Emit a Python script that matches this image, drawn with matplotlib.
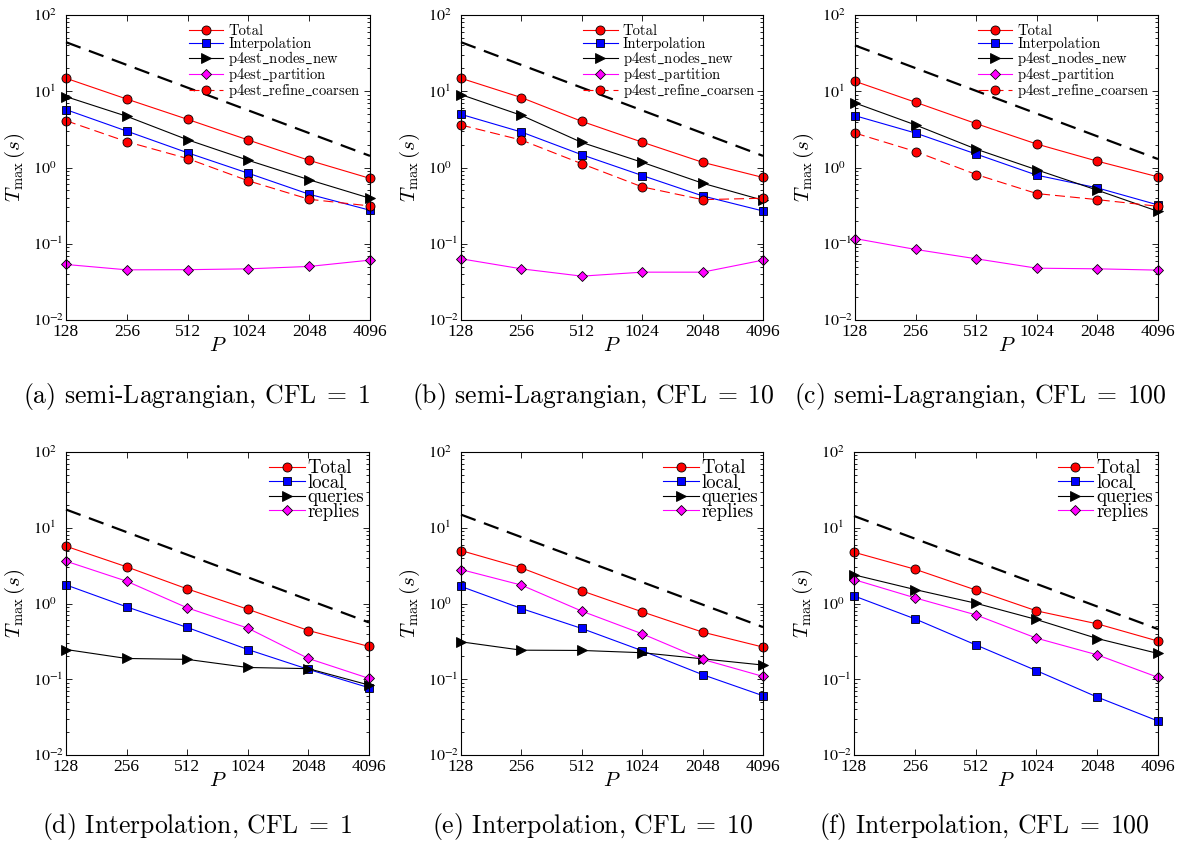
import matplotlib
matplotlib.use("Agg")
import matplotlib.pyplot as plt
from matplotlib.ticker import FixedLocator, LogLocator, NullFormatter

plt.rcParams['mathtext.fontset'] = 'cm'
plt.rcParams['font.family'] = ['Liberation Serif', 'DejaVu Serif']

procs = [128, 256, 512, 1024, 2048, 4096]
ideal_procs = [128, 4096]

# semi-Lagrangian, CFL = 1, 10, 100
sl1_total = [14.8, 7.9, 4.28, 2.29, 1.24, 0.72]
sl1_interp = [5.74, 3.0, 1.56, 0.84, 0.446, 0.275]
sl1_nodes = [8.5, 4.69, 2.31, 1.24, 0.69, 0.395]
sl1_partition = [0.0535, 0.0455, 0.0457, 0.0469, 0.0504, 0.061]
sl1_refine = [4.11, 2.18, 1.31, 0.668, 0.383, 0.313]
sl1_ideal = [44.0, 1.42]

sl10_total = [14.8, 8.26, 4.03, 2.15, 1.17, 0.74]
sl10_interp = [4.98, 2.92, 1.47, 0.785, 0.424, 0.269]
sl10_nodes = [9.04, 4.83, 2.13, 1.17, 0.622, 0.372]
sl10_partition = [0.0635, 0.0469, 0.0376, 0.0424, 0.0424, 0.061]
sl10_refine = [3.61, 2.29, 1.12, 0.557, 0.379, 0.395]
sl10_ideal = [44.0, 1.42]

sl100_total = [13.5, 7.17, 3.76, 2.03, 1.21, 0.754]
sl100_interp = [4.78, 2.83, 1.5, 0.793, 0.54, 0.323]
sl100_nodes = [7.02, 3.61, 1.74, 0.932, 0.503, 0.266]
sl100_partition = [0.117, 0.0842, 0.0635, 0.0478, 0.0469, 0.0451]
sl100_refine = [2.83, 1.62, 0.809, 0.455, 0.379, 0.31]
sl100_ideal = [39.9, 1.29]

# Interpolation, CFL = 1, 10, 100
in1_total = [5.7, 3.05, 1.56, 0.84, 0.44, 0.271]
in1_local = [1.76, 0.904, 0.483, 0.247, 0.135, 0.0773]
in1_queries = [0.247, 0.188, 0.183, 0.143, 0.138, 0.0838]
in1_replies = [3.62, 1.97, 0.877, 0.473, 0.188, 0.1026]
in1_ideal = [17.4, 0.562]

in10_total = [5.0, 2.95, 1.47, 0.776, 0.419, 0.266]
in10_local = [1.68, 0.859, 0.468, 0.238, 0.115, 0.0606]
in10_queries = [0.312, 0.242, 0.24, 0.224, 0.186, 0.154]
in10_replies = [2.81, 1.75, 0.793, 0.398, 0.183, 0.109]
in10_ideal = [14.9, 0.488]

in100_total = [4.75, 2.84, 1.51, 0.8, 0.539, 0.319]
in100_local = [1.26, 0.628, 0.285, 0.13, 0.0582, 0.0281]
in100_queries = [2.39, 1.53, 1.01, 0.615, 0.345, 0.219]
in100_replies = [2.07, 1.19, 0.709, 0.349, 0.21, 0.106]
in100_ideal = [14.3, 0.459]

sl_labels = ["Total", "Interpolation", r"p4est$\_$nodes$\_$new",
             r"p4est$\_$partition", r"p4est$\_$refine$\_$coarsen"]
in_labels = ["Total", "local", "queries", "replies"]

captions = [
    r"(a) semi-Lagrangian, $\mathrm{CFL}\;=\;1$",
    r"(b) semi-Lagrangian, $\mathrm{CFL}\;=\;10$",
    r"(c) semi-Lagrangian, $\mathrm{CFL}\;=\;100$",
    r"(d) Interpolation, $\mathrm{CFL}\;=\;1$",
    r"(e) Interpolation, $\mathrm{CFL}\;=\;10$",
    r"(f) Interpolation, $\mathrm{CFL}\;=\;100$",
]

# (color, marker, markersize, dashes)
sl_styles = [
    ("#ff0000", "o", 6.5, None),
    ("#0000ff", "s", 5.5, None),
    ("#000000", ">", 7, None),
    ("#ff00ff", "D", 5.5, None),
    ("#ff0000", "o", 6.5, (9, 4.5)),
]
in_styles = sl_styles[:4]

panels = [
    ([sl1_total, sl1_interp, sl1_nodes, sl1_partition, sl1_refine], sl1_ideal, sl_labels, sl_styles),
    ([sl10_total, sl10_interp, sl10_nodes, sl10_partition, sl10_refine], sl10_ideal, sl_labels, sl_styles),
    ([sl100_total, sl100_interp, sl100_nodes, sl100_partition, sl100_refine], sl100_ideal, sl_labels, sl_styles),
    ([in1_total, in1_local, in1_queries, in1_replies], in1_ideal, in_labels, in_styles),
    ([in10_total, in10_local, in10_queries, in10_replies], in10_ideal, in_labels, in_styles),
    ([in100_total, in100_local, in100_queries, in100_replies], in100_ideal, in_labels, in_styles),
]

W, H = 1185, 842
fig = plt.figure(figsize=(W / 100, H / 100), dpi=100)

# axes boxes in pixels: left, right, top, bottom
boxes = [
    (66, 370, 15, 320), (461, 763, 15, 320), (855, 1158, 15, 320),
    (66, 369, 452, 755), (461, 763, 452, 755), (854, 1158, 452, 755),
]
caption_x = [197, 593, 980, 197, 593, 984]
caption_y = [396, 396, 396, 826, 826, 826]
cm_font = ["cmr10", "DejaVu Serif"]

for i, (series, ideal, labels, styles) in enumerate(panels):
    l, r, t, b = boxes[i]
    ax = fig.add_axes([l / W, 1 - b / H, (r - l) / W, (b - t) / H])
    ax.plot(ideal_procs, ideal, color="black", lw=1.6, dashes=(7, 4), clip_on=False)
    for vals, lab, (c, m, ms, d) in zip(series, labels, styles):
        kw = dict(color=c, lw=0.8, marker=m, markersize=ms, markerfacecolor=c,
                  markeredgecolor="black", markeredgewidth=0.6, clip_on=False, label=lab)
        if d is not None:
            kw["dashes"] = d
        ax.plot(procs, vals, **kw)
    ax.set_xscale("log", base=2)
    ax.set_yscale("log")
    ax.set_xlim(128, 4096)
    ax.set_ylim(1e-2, 1e2)
    ax.xaxis.set_major_locator(FixedLocator(procs))
    ax.xaxis.set_minor_locator(FixedLocator([]))
    ax.set_xticklabels([str(p) for p in procs], fontsize=12.5)
    ax.yaxis.set_major_locator(FixedLocator([1e-2, 1e-1, 1, 10, 100]))
    ax.yaxis.set_minor_locator(LogLocator(base=10, subs=range(2, 10)))
    ax.yaxis.set_minor_formatter(NullFormatter())
    # MATLAB-style y labels: left-aligned at a common x
    ax.set_yticklabels([r"$10^{%d}$" % k for k in range(-2, 3)], fontsize=11.5,
                       math_fontfamily="stix", ha="left")
    ax.tick_params(which="both", direction="in", top=True, right=True, width=0.6)
    ax.tick_params(which="major", length=4)
    ax.tick_params(axis="x", which="major", pad=3)
    ax.tick_params(axis="y", which="major", pad=23.5)
    ax.tick_params(which="minor", length=2)
    for s in ax.spines.values():
        s.set_linewidth(0.8)
    ax.set_xlabel("$P$", fontsize=15, labelpad=-2)
    ax.set_ylabel(r"$T_{\max}\,(s)$", fontsize=15)
    ax.yaxis.set_label_coords(-0.128, 0.5)
    if i < 3:
        ax.legend(loc="upper left", bbox_to_anchor=(0.405, 0.968), frameon=False,
                  borderpad=0, borderaxespad=0, handlelength=2.35, handletextpad=0.35,
                  labelspacing=-0.12, prop={"family": cm_font, "size": 10.5})
    else:
        ax.legend(loc="upper left", bbox_to_anchor=(0.67, 0.975), frameon=False,
                  borderpad=0, borderaxespad=0, handlelength=1.9, handletextpad=0.15,
                  labelspacing=-0.19, prop={"family": cm_font, "size": 13.5})
    fig.text(caption_x[i] / W, 1 - caption_y[i] / H, captions[i], ha="center", va="center",
             fontsize=18.5, family=cm_font)

fig.savefig("out.png", dpi=100)
